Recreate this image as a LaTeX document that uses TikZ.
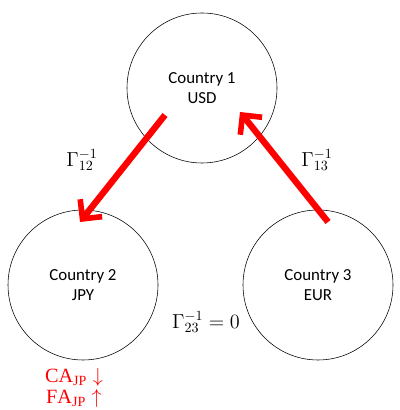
\documentclass[tikz,border=0pt]{standalone}
\usepackage{fontspec}
\setmainfont{Carlito}
\setmathrm{Liberation Serif}
\usetikzlibrary{arrows.meta}
\tikzset{
	country/.style={draw, circle, minimum size=3.75cm, inner sep=0pt, align=center, font=\large},
	flow/.style={draw=red, line width=1.6mm, -{Straight Barb[length=3.5mm, width=7mm, line width=1.4mm]}},
}
\begin{document}
\begin{tikzpicture}
		\useasboundingbox (0, 0) rectangle (9.975, 10.25);

		\node[country](c1) at(5.05, 8.05){Country 1\\USD};
		\node[country](c2) at(2.075, 3.125){Country 2\\JPY};
		\node[country](c3) at(7.95, 3.125){Country 3\\EUR};

		\coordinate(s12) at(4.125, 7.375);
		\coordinate(e12) at(2.0, 4.7);
		\coordinate(s31) at(8.2, 4.7);
		\coordinate(e31) at(6.0, 7.45);
			\draw[flow](s12) to (e12);
			\draw[flow](s31) to (e31);

		\node(g12) at(2.05, 6.25){\Large{$\Gamma_{12}^{-1}$}};
		\node(g13) at(7.925, 6.25){\Large{$\Gamma_{13}^{-1}$}};
		\node(g23) at(5.15, 2.2){\Large{$\Gamma_{23}^{-1}=0$}};

		\node[red](ca) at(1.85, 0.825){\Large{$\mathrm{CA}_{\mathrm{JP}}\downarrow$}};
		\node[red](fa) at(1.85, 0.3){\Large{$\mathrm{FA}_{\mathrm{JP}}\uparrow$}};

	\end{tikzpicture}
\end{document}
